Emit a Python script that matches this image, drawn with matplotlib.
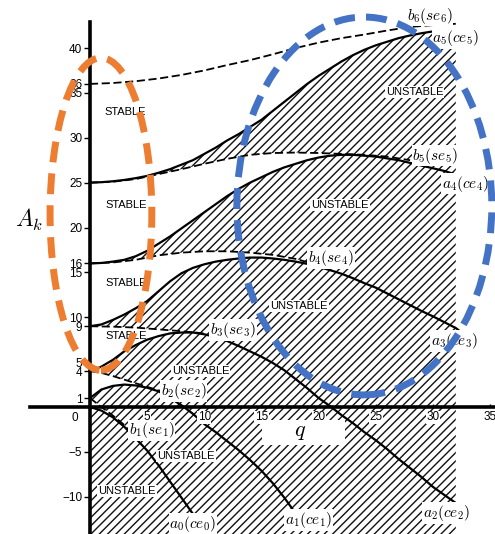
import matplotlib
matplotlib.use('Agg')
import matplotlib.pyplot as plt
import matplotlib.patches as patches
import numpy as np

plt.rcParams['font.family'] = ['Liberation Sans', 'DejaVu Sans']
plt.rcParams['mathtext.fontset'] = 'cm'
plt.rcParams['hatch.linewidth'] = 1.0

# characteristic curves of the Mathieu equation: a_r (solid), b_r (dashed)
Q_A0 = [0, 1, 2, 3, 4, 5, 6, 7, 8, 9, 9.4]
A0 = [0.0, -0.4, -1.15, -2.2, -3.5, -4.85, -6.5, -8.3, -10.1, -11.9, -12.5]

Q_B1 = [0, 0.5, 1, 2, 3, 3.5]
B1 = [1.0, 0.5, 0.0, -0.95, -2.0, -2.75]

Q_A1 = [0, 1, 2, 3, 4, 5, 6, 7, 8, 9, 10, 11, 12, 13, 14, 15, 16, 17, 17.9]
A1 = [1.0, 1.95, 2.35, 2.5, 2.4, 2.15, 1.75, 1.0, 0.2, -0.75, -1.9, -2.8,
      -3.8, -4.8, -5.9, -7.1, -8.5, -10.1, -11.7]

Q_B2 = [0, 1, 2, 3, 4, 5, 6]
B2 = [4.0, 3.8, 3.45, 3.05, 2.65, 2.25, 1.85]

Q_A2 = list(range(33))
A2 = [4.0, 4.5, 5.25, 6.2, 6.9, 7.5, 7.9, 8.2, 8.3, 8.3, 8.1, 7.8, 7.35, 6.8,
      6.2, 5.6, 4.9, 4.1, 3.1, 2.1, 1.0, 0.1, -0.9, -1.8, -2.8, -3.7, -4.7,
      -5.8, -6.8, -7.8, -8.9, -9.8, -10.7]

Q_B3 = [0, 2, 4, 6, 8, 10]
B3 = [9.0, 8.95, 8.85, 8.65, 8.45, 8.2]

Q_A3 = list(range(33)) + [32.3]
A3 = [9.0, 9.2, 9.7, 10.3, 11.0, 11.8, 12.9, 14.0, 14.9, 15.5, 15.9, 16.2,
      16.4, 16.55, 16.65, 16.65, 16.55, 16.4, 16.2, 15.95, 15.6, 15.25, 14.85,
      14.35, 13.8, 13.3, 12.65, 12.0, 11.35, 10.7, 10.1, 9.45, 8.8, 8.5]

Q_B4 = [0, 2, 4, 6, 8, 10, 12, 14, 16, 18, 19]
B4 = [16.0, 16.1, 16.4, 16.9, 17.2, 17.35, 17.35, 17.2, 16.95, 16.5, 16.15]

Q_A4 = list(range(34))
A4 = [16.0, 16.05, 16.2, 16.4, 16.8, 17.4, 18.2, 19.0, 19.9, 20.8, 21.7, 22.6,
      23.5, 24.3, 25.0, 25.6, 26.2, 26.7, 27.1, 27.5, 27.8, 28.0, 28.1, 28.1,
      28.0, 27.9, 27.7, 27.5, 27.2, 26.9, 26.6, 26.3, 25.9, 25.6]

Q_B5 = [0, 2, 4, 6, 8, 10, 12, 14, 16, 18, 20, 22, 24, 26, 28]
B5 = [25.0, 25.1, 25.4, 25.95, 26.5, 27.1, 27.65, 28.1, 28.3, 28.35, 28.3,
      28.2, 28.1, 27.9, 27.5]

Q_A5 = list(range(33))
A5 = [25.0, 25.05, 25.15, 25.3, 25.5, 25.75, 26.1, 26.5, 27.0, 27.5, 28.2,
      28.9, 29.7, 30.4, 31.2, 32.0, 33.0, 34.0, 35.0, 36.0, 36.9, 37.7, 38.5,
      39.2, 39.8, 40.3, 40.7, 41.1, 41.4, 41.65, 41.85, 42.0, 42.1]

Q_B6 = [0, 2, 4, 6, 8, 10, 12, 14, 16, 18, 20, 22, 24, 26, 28, 30, 32]
B6 = [36.0, 36.1, 36.3, 36.6, 37.0, 37.5, 38.1, 38.65, 39.3, 40.0, 40.6, 41.1,
      41.5, 41.95, 42.35, 42.55, 42.7]

Y_TICKS = [-10, -5, 1, 4, 5, 9, 10, 15, 16, 20, 25, 30, 35, 36, 40]
X_TICKS = [5, 10, 15, 20, 25, 30, 35]

CURVE_LABELS = [
    (r'$b_6(se_6)$', 29.7, 43.6), (r'$a_5(ce_5)$', 32.0, 41.1),
    (r'$b_5(se_5)$', 30.2, 28.0), (r'$a_4(ce_4)$', 32.8, 24.9),
    (r'$b_4(se_4)$', 21.1, 16.6), (r'$a_3(ce_3)$', 31.9, 7.35),
    (r'$b_3(se_3)$', 12.5, 8.6), (r'$b_2(se_2)$', 8.2, 1.8),
    (r'$b_1(se_1)$', 5.4, -2.6), (r'$a_0(ce_0)$', 9.0, -13.0),
    (r'$a_1(ce_1)$', 19.1, -12.6), (r'$a_2(ce_2)$', 31.2, -11.8),
]
STABLE_POS = [(3.1, 32.9), (3.15, 22.5), (3.15, 13.8), (3.15, 7.9)]
UNSTABLE_POS = [(28.4, 35.1), (21.9, 22.5), (18.3, 11.25), (9.67, 4.05),
                (8.4, -5.5), (3.24, -9.4)]

SOLID = [(Q_A0, A0), (Q_A1, A1), (Q_A2, A2), (Q_A3, A3), (Q_A4, A4), (Q_A5, A5)]
DASHED = [(Q_B1, B1), (Q_B2, B2), (Q_B3, B3), (Q_B4, B4), (Q_B5, B5), (Q_B6, B6)]


def stable_band(ax, qa, a, qb, b):
    """white tongue between a_r (below) and b_{r+1} (above)"""
    qa, a, qb, b = map(np.asarray, (qa, a, qb, b))
    keep = qa <= qb[-1]
    xs = np.concatenate([qa[keep], qb[::-1]])
    ys = np.concatenate([a[keep], b[::-1]])
    ax.fill(xs, ys, color='white', lw=0, zorder=1.2)


fig = plt.figure(figsize=(4.95, 5.34), dpi=100)
ax = fig.add_axes([0, 0, 1, 1])
ax.set_xlim(-7.87, 35.43)
ax.set_ylim(-14.15, 45.35)
ax.set_axisbelow(False)

# unstable region: everything under a_5, then the stable tongues cut out
ax.fill_between(Q_A5, -15, A5, facecolor='white', edgecolor='#111111',
                hatch='////', lw=0, zorder=1)
stable_band(ax, Q_A0, A0, Q_B1, B1)
stable_band(ax, Q_A1, A1, Q_B2, B2)
stable_band(ax, Q_A2, A2, Q_B3, B3)
stable_band(ax, Q_A3, A3, Q_B4, B4)
stable_band(ax, Q_A4, A4, Q_B5, B5)

for q, a in SOLID:
    ax.plot(q, a, color='black', lw=1.6, zorder=2)
for q, b in DASHED:
    ax.plot(q, b, color='black', lw=1.3, ls=(0, (4.5, 2)), zorder=2)

# axes through the origin
for side in ('top', 'right'):
    ax.spines[side].set_visible(False)
ax.spines['left'].set_position(('data', 0))
ax.spines['bottom'].set_position(('data', 0))
ax.spines['left'].set_bounds(-14.2, 42.9)
ax.spines['bottom'].set_bounds(-5.25, 35.5)
for side in ('left', 'bottom'):
    ax.spines[side].set_linewidth(2.6)
    ax.spines[side].set_zorder(4)

ax.set_yticks(Y_TICKS)
ax.set_xticks(X_TICKS)
ax.tick_params(axis='y', direction='out', length=4, width=1, pad=1.5,
               labelsize=8.5)
ax.tick_params(axis='x', direction='in', length=2, width=1, pad=3,
               labelsize=8.5)
for lab in ax.get_xticklabels():
    lab.set_bbox(dict(facecolor='white', edgecolor='none', pad=0.3))
ax.text(-1.3, -1.25, '0', fontsize=8.5, ha='center', va='center')

for txt, q, a in CURVE_LABELS:
    ax.text(q, a, txt, fontsize=11, ha='center', va='center', zorder=3,
            bbox=dict(facecolor='white', edgecolor='none', pad=0.5))
for q, a in STABLE_POS:
    ax.text(q, a, 'STABLE', fontsize=8, ha='center', va='center', zorder=3)
for q, a in UNSTABLE_POS:
    ax.text(q, a, 'UNSTABLE', fontsize=8, ha='center', va='center', zorder=3,
            bbox=dict(facecolor='white', edgecolor='none', pad=0.8))

ax.text(-5.3, 20.8, r'$A_k$', fontsize=17, ha='center', va='center')
ax.add_patch(patches.Rectangle((15.05, -4.23), 7.25, 2.78, facecolor='white',
                               edgecolor='none', zorder=1.3))
ax.text(18.4, -2.75, r'$q$', fontsize=16, ha='center', va='center', zorder=3)

# highlighted zones
ax.add_patch(patches.Ellipse((0.96, 21.5), 8.9, 34.8, fill=False,
                             edgecolor='#ED7D31', lw=5, ls=(0, (3, 1.6)),
                             zorder=10))
ax.add_patch(patches.Ellipse((24.0, 22.4), 22.3, 42.1, fill=False,
                             edgecolor='#4472C4', lw=5, ls=(0, (3, 1.6)),
                             zorder=10))

fig.savefig('out.png', dpi=100, facecolor='white')
